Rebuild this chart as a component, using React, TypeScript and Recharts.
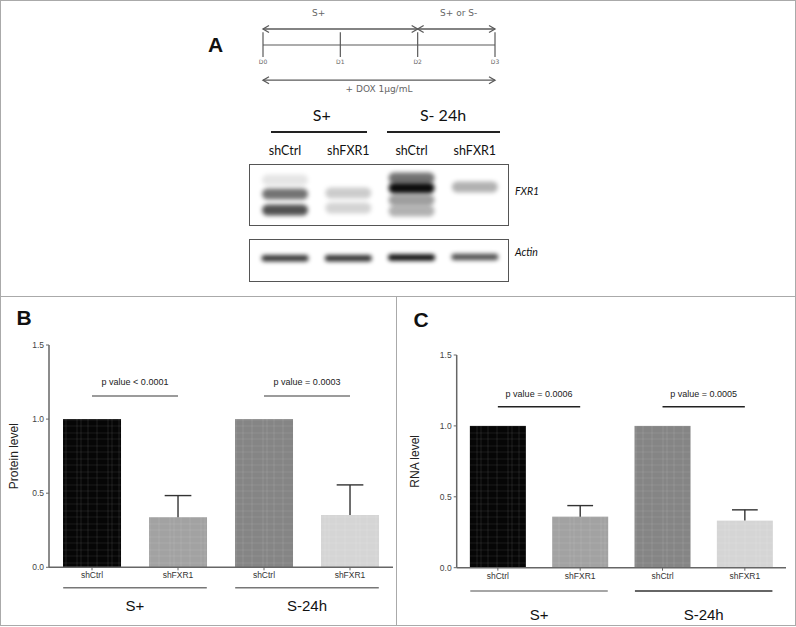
import React from "react";
import {
  BarChart,
  Bar,
  XAxis,
  YAxis,
  Cell,
  ReferenceLine,
  ComposedChart,
  Line,
  Scatter,
} from "recharts";

// ---- panels B / C data ----
const conditions = ["shCtrl", "shFXR1", "shCtrl", "shFXR1"];
const groups = ["S+", "S+", "S-24h", "S-24h"];
const proteinLevel = [1.0, 0.338, 1.0, 0.353];
const proteinErr = [0, 0.146, 0, 0.203];
const rnaLevel = [1.0, 0.36, 1.0, 0.332];
const rnaErr = [0, 0.078, 0, 0.076];
const proteinP = ["p value < 0.0001", "p value = 0.0003"];
const rnaP = ["p value = 0.0006", "p value = 0.0005"];
const levelTicks = [0, 0.5, 1.0, 1.5];

// ---- panel A: timeline ----
const days = [0, 1, 2, 3];
const phases = [
  { label: "S+", from: 0, to: 2, labelAt: 0.72 },
  { label: "S+ or S-", from: 2, to: 3, labelAt: 2.53 },
];
const treatment = { label: "+ DOX 1µg/mL", from: 0, to: 3 };

// ---- panel A: blot (lane, migration in gel units, band density) ----
const laneLabels = ["shCtrl", "shFXR1", "shCtrl", "shFXR1"];
const fxr1Bands = [
  { lane: 1, pos: 1.6, density: 0.1 },
  { lane: 1, pos: 3.0, density: 0.55 },
  { lane: 1, pos: 4.6, density: 0.68 },
  { lane: 2, pos: 2.9, density: 0.2 },
  { lane: 2, pos: 4.4, density: 0.17 },
  { lane: 3, pos: 1.4, density: 0.55 },
  { lane: 3, pos: 2.4, density: 0.95 },
  { lane: 3, pos: 3.6, density: 0.38 },
  { lane: 3, pos: 4.7, density: 0.3 },
  { lane: 4, pos: 2.3, density: 0.3 },
];
const actinBands = [
  { lane: 1, pos: 9.43, density: 0.78 },
  { lane: 2, pos: 9.43, density: 0.8 },
  { lane: 3, pos: 9.35, density: 0.95 },
  { lane: 4, pos: 9.3, density: 0.68 },
];

const BAR_FILLS = ["#060606", "#a2a2a2", "#858585", "#d5d5d5"];
const FONT = "'Liberation Sans', Arial, sans-serif";
const TL = "#5a5a5a";

function Txt({ x, y, size, children, bold, italic, anchor = "middle", family = FONT, color = "#111" }: any) {
  const tx = anchor === "middle" ? "-50%" : anchor === "end" ? "-100%" : "0";
  return (
    <div
      style={{
        position: "absolute",
        left: x,
        top: y - size * 0.5,
        fontSize: size,
        lineHeight: 1,
        fontFamily: family,
        fontWeight: bold ? 700 : 400,
        fontStyle: italic ? "italic" : "normal",
        color,
        whiteSpace: "nowrap",
        transform: `translateX(${tx})`,
      }}
    >
      {children}
    </div>
  );
}

const arrowDot = (props: any) => {
  const { cx, cy, index } = props;
  const d = index === 0 ? 1 : -1;
  return (
    <path
      key={`a-${index}-${cx}`}
      d={`M${cx + 6 * d},${cy - 3.5} L${cx},${cy} L${cx + 6 * d},${cy + 3.5}`}
      stroke={TL}
      strokeWidth={1.3}
      fill="none"
    />
  );
};

const textShape = (p: any) => {
  const size = p.payload.kind === "day" ? 6 : 9;
  return (
    <text x={p.cx} y={p.cy} textAnchor="middle" dominantBaseline="central" fontSize={size} fill="#666" fontFamily="'DejaVu Sans', sans-serif">
      {p.payload.label}
    </text>
  );
};

const bandShape = (h: number, w: number) => (p: any) => (
  <rect
    x={p.cx - w / 2}
    y={p.cy - h / 2}
    width={w}
    height={h}
    rx={h / 2}
    fill="#000"
    fillOpacity={p.payload.density}
    filter="url(#blotBlur)"
  />
);

function PanelA() {
  const timelineTexts = [
    ...phases.map((p) => ({ x: p.labelAt, y: 2, label: p.label, kind: "phase" })),
    ...days.map((d) => ({ x: d, y: -1, label: `D${d}`, kind: "day" })),
    { x: (treatment.from + treatment.to) / 2, y: -2.75, label: treatment.label, kind: "dox" },
  ];
  return (
    <>
      <Txt x={215.5} y={44.5} size={21} bold>A</Txt>
      <div style={{ position: "absolute", left: 240, top: 0 }}>
        <ComposedChart width={280} height={100} margin={{ top: 13, right: 25, bottom: 7, left: 23 }}>
          <XAxis type="number" dataKey="x" domain={[0, 3]} hide />
          <YAxis type="number" dataKey="y" domain={[-3, 2]} hide />
          <ReferenceLine y={0} stroke={TL} strokeWidth={1.2} />
          {days.map((d) => (
            <ReferenceLine key={d} segment={[{ x: d, y: 0.8 }, { x: d, y: -0.75 }]} stroke={TL} strokeWidth={1.2} />
          ))}
          {phases.map((ph) => (
            <Line
              key={ph.label}
              data={[{ x: ph.from, y: 1 }, { x: ph.to, y: 1 }]}
              dataKey="y"
              stroke={TL}
              strokeWidth={1.3}
              dot={arrowDot}
              activeDot={false}
              isAnimationActive={false}
            />
          ))}
          <Line
            data={[{ x: treatment.from, y: -2.2 }, { x: treatment.to, y: -2.2 }]}
            dataKey="y"
            stroke={TL}
            strokeWidth={1.3}
            dot={arrowDot}
            activeDot={false}
            isAnimationActive={false}
          />
          <Scatter data={timelineTexts} shape={textShape} isAnimationActive={false} />
        </ComposedChart>
      </div>

      {/* blot headers */}
      <Txt x={321.7} y={115} size={16} family="Lato, sans-serif">S+</Txt>
      <Txt x={443} y={115} size={16} family="Lato, sans-serif">S- 24h</Txt>
      <div style={{ position: "absolute", left: 271, top: 131.3, width: 96, height: 2, background: "#222" }} />
      <div style={{ position: "absolute", left: 387, top: 131.3, width: 112.5, height: 2, background: "#222" }} />

      <div style={{ position: "absolute", left: 249.3, top: 164, width: 260, height: 62, border: "1.5px solid #555", boxSizing: "border-box" }} />
      <div style={{ position: "absolute", left: 249.3, top: 239, width: 260, height: 43, border: "1.5px solid #555", boxSizing: "border-box" }} />
      <Txt x={515} y={191.7} size={10.5} italic anchor="start" family="Lato, sans-serif">FXR1</Txt>
      <Txt x={515} y={252.7} size={10.5} italic anchor="start" family="Lato, sans-serif">Actin</Txt>

      <div style={{ position: "absolute", left: 249.3, top: 100 }}>
        <ComposedChart width={260} height={182} margin={{ top: 0, right: 0, bottom: 0, left: 0 }}>
          <XAxis
            type="number"
            dataKey="lane"
            domain={[0.43, 4.54]}
            allowDataOverflow
            orientation="top"
            ticks={[1, 2, 3, 4]}
            tickFormatter={(v: number) => laneLabels[v - 1]}
            interval={0}
            height={64}
            axisLine={false}
            tickLine={false}
            tickSize={0}
            tickMargin={9.5}
            tick={{ fontSize: 12.5, fill: "#111", fontFamily: "Lato, sans-serif" }}
          />
          <YAxis type="number" dataKey="pos" domain={[0, 11.8]} allowDataOverflow reversed hide />
          <Scatter data={fxr1Bands} shape={bandShape(11, 46)} isAnimationActive={false} />
          <Scatter data={actinBands} shape={bandShape(6.5, 47)} isAnimationActive={false} />
        </ComposedChart>
      </div>
    </>
  );
}

type LevelProps = {
  values: number[];
  errors: number[];
  pLabels: string[];
  yLabel: string;
  left: number;
  width: number;
  top: number;
  axisWidth: number;
  plotH: number;
  pY: number;
  pOffset: number;
  pColor: string;
  groupColors: string[];
  lineDy: number;
  labelDy: number;
  labelDx: number;
  gap: string;
};

function LevelChart(o: LevelProps) {
  const data = conditions.map((c, i) => ({
    key: `b${i}`,
    cond: c,
    group: groups[i],
    value: o.values[i],
    err: o.errors[i],
  }));
  const height = 326;
  const groupH = height - o.top - o.plotH - 14;

  const renderBar = (p: any) => {
    const { x, y, width, height: h, payload, index } = p;
    const ppu = payload.value ? h / payload.value : 0;
    const top = y - payload.err * ppu;
    const cx = x + width / 2;
    const cap = width * 0.23;
    return (
      <g>
        <rect x={x} y={y} width={width} height={h} fill={BAR_FILLS[index]} />
        <rect x={x} y={y} width={width} height={h} fill="url(#grain)" />
        {payload.err > 0 && (
          <g stroke="#333" strokeWidth={1.4}>
            <line x1={cx} y1={y} x2={cx} y2={top} />
            <line x1={cx - cap} y1={top} x2={cx + cap} y2={top} />
          </g>
        )}
      </g>
    );
  };

  const groupTick = (p: any) => {
    const plotW = p.width || o.width - o.axisWidth - 3;
    const band = plotW / 4;
    const half = band * (1 - 0.165);
    const idx = p.index ?? 0;
    return (
      <g>
        <line x1={p.x - half} x2={p.x + half} y1={p.y + o.lineDy} y2={p.y + o.lineDy} stroke={o.groupColors[idx]} strokeWidth={1.4} />
        <text x={p.x} y={p.y + o.labelDy} textAnchor="middle" dominantBaseline="central" fontSize={15} fill="#111" fontFamily={FONT}>
          {p.payload.value}
        </text>
      </g>
    );
  };

  const yLabelContent = (p: any) => {
    const vb = p.viewBox || { x: 0, y: o.top, height: o.plotH };
    const cx = vb.x + o.labelDx;
    const cy = vb.y + vb.height / 2;
    return (
      <text x={cx} y={cy} transform={`rotate(-90 ${cx} ${cy})`} textAnchor="middle" dominantBaseline="central" fontSize={12} fill="#222" fontFamily={FONT}>
        {o.yLabel}
      </text>
    );
  };

  return (
    <div style={{ position: "absolute", left: o.left, top: 300 }}>
      <BarChart
        width={o.width}
        height={height}
        data={data}
        margin={{ top: o.top, right: 3, left: 0, bottom: 0 }}
        barCategoryGap={o.gap}
      >
        <XAxis
          dataKey="key"
          tickFormatter={(_: any, i: number) => conditions[i]}
          interval={0}
          height={14}
          tickSize={3}
          tickMargin={2}
          axisLine={{ stroke: "#666", strokeWidth: 1.5 }}
          tickLine={{ stroke: "#666" }}
          tick={{ fontSize: 8.5, fill: "#333", fontFamily: FONT }}
        />
        <XAxis
          xAxisId="grp"
          dataKey="group"
          allowDuplicatedCategory={false}
          height={groupH}
          axisLine={false}
          tickLine={false}
          tickSize={0}
          tickMargin={0}
          interval={0}
          tick={groupTick}
        />
        <YAxis
          domain={[0, 1.5]}
          ticks={levelTicks}
          tickFormatter={(v: number) => v.toFixed(1)}
          width={o.axisWidth}
          tickSize={3}
          tickMargin={2}
          axisLine={{ stroke: "#666", strokeWidth: 1.5 }}
          tickLine={{ stroke: "#666" }}
          tick={{ fontSize: 8.5, fill: "#444", fontFamily: FONT }}
          label={{ content: yLabelContent }}
        />
        <Bar dataKey="value" shape={renderBar} isAnimationActive={false}>
          {data.map((d, i) => (
            <Cell key={d.key} fill={BAR_FILLS[i]} />
          ))}
        </Bar>
        {[0, 1].map((g) => (
          <ReferenceLine
            key={g}
            segment={[
              { x: `b${g * 2}`, y: o.pY },
              { x: `b${g * 2 + 1}`, y: o.pY },
            ]}
            stroke={o.pColor}
            strokeWidth={1.4}
            label={{ value: o.pLabels[g], position: "top", offset: o.pOffset, fontSize: 9, fill: "#222", fontFamily: FONT }}
          />
        ))}
      </BarChart>
    </div>
  );
}

export default function App() {
  return (
    <div style={{ position: "absolute", left: 0, top: 0, width: 796, height: 627, background: "#fff", overflow: "hidden" }}>
      <svg style={{ position: "absolute", width: 0, height: 0 }}>
        <defs>
          <pattern id="grain" width="31" height="13" patternUnits="userSpaceOnUse">
            <path d="M4 0V13M15 0V13M19 0V13M26 0V13" stroke="#fff" strokeOpacity="0.12" strokeWidth="0.8" />
            <path d="M0 3H31M0 9H31" stroke="#fff" strokeOpacity="0.1" strokeWidth="0.8" />
          </pattern>
          <filter id="blotBlur" x="-20%" y="-120%" width="140%" height="340%">
            <feGaussianBlur stdDeviation="2" />
          </filter>
        </defs>
      </svg>

      {/* frame */}
      <div style={{ position: "absolute", left: 0, top: 0, width: 796, height: 626, border: "1px solid #aaa", boxSizing: "border-box" }} />
      <div style={{ position: "absolute", left: 0, top: 296, width: 796, height: 1, background: "#aaa" }} />
      <div style={{ position: "absolute", left: 396, top: 296, width: 1, height: 330, background: "#aaa" }} />

      <PanelA />

      <Txt x={24} y={317.5} size={21} bold>B</Txt>
      <Txt x={421} y={319.5} size={21} bold>C</Txt>

      <LevelChart
        values={proteinLevel}
        errors={proteinErr}
        pLabels={proteinP}
        yLabel="Protein level"
        left={0}
        width={396}
        top={45}
        axisWidth={49}
        plotH={222.3}
        pY={1.156}
        pOffset={11}
        pColor="#7a7a7a"
        groupColors={["#777", "#777"]}
        lineDy={6.4}
        labelDy={23.7}
        labelDx={14}
        gap="16.3%"
      />
      <LevelChart
        values={rnaLevel}
        errors={rnaErr}
        pLabels={rnaP}
        yLabel="RNA level"
        left={400}
        width={389}
        top={55}
        axisWidth={56.7}
        plotH={212.7}
        pY={1.135}
        pOffset={9.5}
        pColor="#222"
        groupColors={["#888", "#333"]}
        lineDy={9.3}
        labelDy={32.3}
        labelDx={15}
        gap="16%"
      />
    </div>
  );
}
